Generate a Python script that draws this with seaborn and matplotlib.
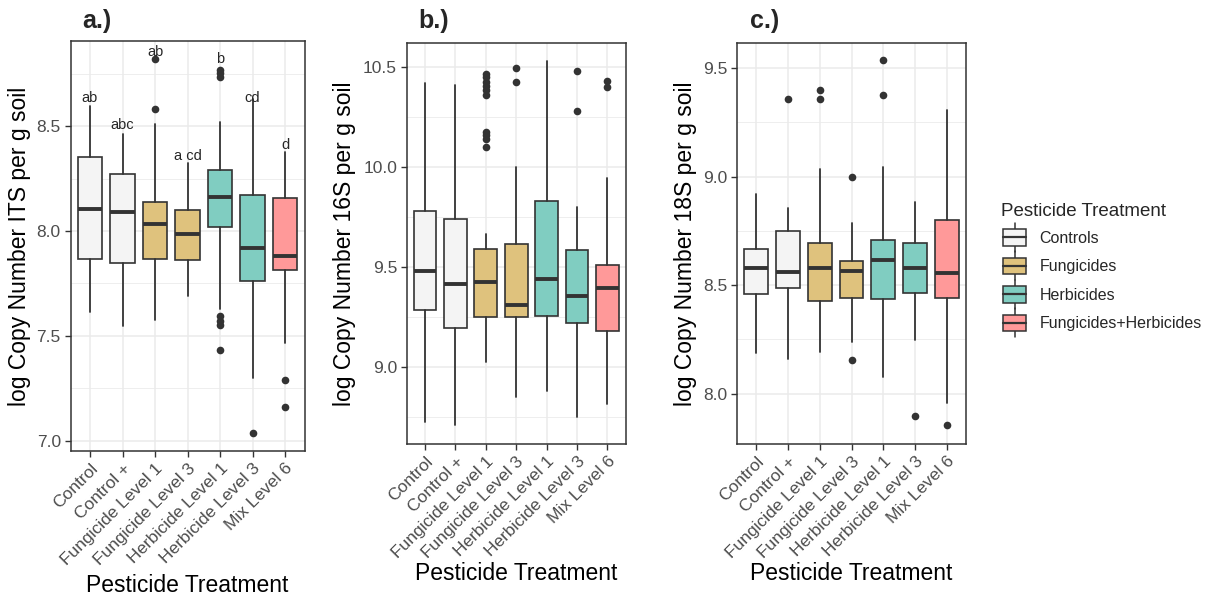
import numpy as np
import pandas as pd
import matplotlib
matplotlib.use('Agg')
import matplotlib.pyplot as plt
import seaborn as sns
from matplotlib.legend_handler import HandlerBase
from matplotlib.patches import Rectangle
from matplotlib.lines import Line2D
from matplotlib.ticker import FixedLocator

sns.set_style("white")
plt.rcParams['font.family'] = ['Liberation Sans', 'DejaVu Sans']

# ---------------- data ----------------
treatments = ['Control', 'Control +', 'Fungicide Level 1', 'Fungicide Level 3',
              'Herbicide Level 1', 'Herbicide Level 3', 'Mix Level 6']
groups = ['Controls', 'Controls', 'Fungicides', 'Fungicides',
          'Herbicides', 'Herbicides', 'Fungicides+Herbicides']
group_order = ['Controls', 'Fungicides', 'Herbicides', 'Fungicides+Herbicides']
group_colors = ['#F4F4F4', '#DFC27D', '#80CDC1', '#FF9999']

# a.) ITS
its_whislo = [7.613, 7.549, 7.576, 7.692, 7.627, 7.298, 7.465]
its_q1 = [7.867, 7.846, 7.865, 7.863, 8.021, 7.763, 7.814]
its_med = [8.105, 8.090, 8.032, 7.984, 8.162, 7.917, 7.879]
its_q3 = [8.354, 8.271, 8.140, 8.098, 8.289, 8.170, 8.157]
its_whishi = [8.595, 8.462, 8.508, 8.325, 8.519, 8.629, 8.376]
its_out = [[], [], [8.817, 8.583], [],
           [8.767, 8.754, 8.732, 7.595, 7.573, 7.552, 7.432], [7.040], [7.292, 7.163]]
its_letters = ['ab', 'abc', 'ab', 'a cd', 'b', 'cd', 'd']
its_letter_y = [8.635, 8.505, 8.854, 8.357, 8.817, 8.635, 8.410]

# b.) 16S
s16_whislo = [8.725, 8.708, 9.025, 8.847, 8.880, 8.750, 8.813]
s16_q1 = [9.283, 9.192, 9.250, 9.250, 9.255, 9.217, 9.178]
s16_med = [9.478, 9.412, 9.423, 9.308, 9.437, 9.355, 9.395]
s16_q3 = [9.778, 9.738, 9.587, 9.613, 9.828, 9.583, 9.508]
s16_whishi = [10.417, 10.408, 9.662, 10.000, 10.528, 9.797, 9.942]
s16_out = [[], [],
           [10.463, 10.447, 10.425, 10.403, 10.383, 10.358, 10.172, 10.158, 10.137, 10.097],
           [10.493, 10.422], [], [10.480, 10.280], [10.430, 10.397]]

# c.) 18S
s18_whislo = [8.186, 8.158, 8.194, 8.240, 8.078, 8.247, 7.958]
s18_q1 = [8.458, 8.488, 8.429, 8.439, 8.436, 8.462, 8.439]
s18_med = [8.578, 8.561, 8.578, 8.567, 8.616, 8.581, 8.555]
s18_q3 = [8.665, 8.750, 8.694, 8.611, 8.710, 8.694, 8.799]
s18_whishi = [8.920, 8.857, 9.034, 8.785, 9.043, 8.883, 9.307]
s18_out = [[], [9.359], [9.399, 9.359], [8.998, 8.155], [9.536, 9.376], [7.896], [7.854]]

# ---------------- layout (pixels) ----------------
W, H = 1209, 599
fig = plt.figure(figsize=(W / 100, H / 100), dpi=100)


def px_axes(left, top, right, bottom):
    return fig.add_axes([left / W, 1 - bottom / H, (right - left) / W, (bottom - top) / H])


EDGE = '#333333'
color_of = dict(zip(group_order, group_colors))


def draw_panel(ax, lo, q1, med, q3, hi, outs, ylim, yticks, ylabel, ylab_x, xlab_y):
    stats = [dict(whislo=a, q1=b, med=c, q3=d, whishi=e, fliers=[])
             for a, b, c, d, e in zip(lo, q1, med, q3, hi)]
    bp = ax.bxp(stats, positions=range(len(treatments)), widths=0.75, patch_artist=True,
                showfliers=False, showcaps=False,
                boxprops=dict(edgecolor=EDGE, linewidth=1.2),
                whiskerprops=dict(color=EDGE, linewidth=1.3),
                medianprops=dict(color=EDGE, linewidth=2.8, solid_capstyle='butt'))
    for patch, g in zip(bp['boxes'], groups):
        patch.set_facecolor(color_of[g])
        patch.set_zorder(2)

    # outliers through seaborn
    rows = [(t, v) for t, vals in zip(treatments, outs) for v in vals]
    df = pd.DataFrame(rows, columns=['Treatment', 'value'])
    sns.stripplot(data=df, x='Treatment', y='value', order=treatments, jitter=False,
                  color=EDGE, size=5.5, ax=ax, zorder=3)

    ax.set_xlim(-0.6, len(treatments) - 0.4)
    ax.set_ylim(*ylim)
    ax.set_xticks(range(len(treatments)))
    ax.set_xticklabels(treatments, rotation=45, ha='right', rotation_mode='anchor',
                       fontsize=12.5, color='#4D4D4D')
    ax.set_yticks(yticks)
    ax.set_yticklabels([f'{t:.1f}' for t in yticks], fontsize=12.5, color='#4D4D4D')
    ax.yaxis.set_minor_locator(FixedLocator([t + 0.25 for t in [yticks[0] - 0.5] + list(yticks)]))
    ax.tick_params(axis='both', which='major', length=4, width=1, color=EDGE, pad=3, direction='out',
                   bottom=True, left=True)
    ax.tick_params(axis='y', which='minor', length=0)
    ax.grid(True, which='major', color='#EBEBEB', linewidth=1.1)
    ax.grid(True, which='minor', axis='y', color='#EBEBEB', linewidth=0.6)
    ax.set_axisbelow(True)
    for s in ax.spines.values():
        s.set_color(EDGE)
        s.set_linewidth(1.1)
        s.set_visible(True)
    ax.set_ylabel(ylabel, fontsize=16.5, color='black')
    ax.yaxis.set_label_coords(ylab_x, 0.5)
    ax.set_xlabel('Pesticide Treatment', fontsize=16.5, color='black')
    ax.xaxis.set_label_coords(0.5, xlab_y)


ax_a = px_axes(70.5, 41, 304.5, 451)
draw_panel(ax_a, its_whislo, its_q1, its_med, its_q3, its_whishi, its_out,
           (6.952, 8.905), [7.0, 7.5, 8.0, 8.5], 'log Copy Number ITS per g soil', -0.17, -0.30)
for i, (lab, y) in enumerate(zip(its_letters, its_letter_y)):
    ax_a.text(i, y, lab, ha='center', va='center', fontsize=10.5, zorder=4)

ax_b = px_axes(406.8, 42.7, 625.5, 444)
draw_panel(ax_b, s16_whislo, s16_q1, s16_med, s16_q3, s16_whishi, s16_out,
           (8.613, 10.62), [9.0, 9.5, 10.0, 10.5], 'log Copy Number 16S per g soil', -0.23, -0.295)

ax_c = px_axes(737, 42.7, 966, 444)
draw_panel(ax_c, s18_whislo, s18_q1, s18_med, s18_q3, s18_whishi, s18_out,
           (7.768, 9.617), [8.0, 8.5, 9.0, 9.5], 'log Copy Number 18S per g soil', -0.176, -0.295)

# panel tags
for x, lab in [(82, 'a.)'), (418, 'b.)'), (750, 'c.)')]:
    fig.text(x / W, 1 - 28 / H, lab, fontsize=18, fontweight='bold', va='baseline', ha='left')


# ---------------- legend ----------------
class BoxKey(HandlerBase):
    # ggplot-style boxplot key: box with median bar and whisker stubs reaching the row edges
    def create_artists(self, legend, orig_handle, xdescent, ydescent, width, height, fontsize, trans):
        x0, y0 = -xdescent, -ydescent
        xm = x0 + width / 2
        yc = y0 + height / 2
        hb = 0.37 * height
        hw = 0.66 * height
        wl = Line2D([xm, xm], [yc - hw, yc - hb], color=EDGE, lw=1.1, transform=trans)
        wh = Line2D([xm, xm], [yc + hb, yc + hw], color=EDGE, lw=1.1, transform=trans)
        box = Rectangle((x0, yc - hb), width, 2 * hb,
                        facecolor=orig_handle.get_facecolor(), edgecolor=EDGE, lw=1.1, transform=trans)
        mid = Line2D([x0, x0 + width], [yc, yc], color=EDGE, lw=1.6, transform=trans)
        return [wl, wh, box, mid]


handles = [Rectangle((0, 0), 1, 1, facecolor=c) for c in group_colors]
leg = fig.legend(handles, group_order, handler_map={Rectangle: BoxKey()},
                 loc='upper left', bbox_to_anchor=(1003 / W, 1 - 203 / H),
                 frameon=False, fontsize=11.5, title='Pesticide Treatment',
                 title_fontsize=13.5, alignment='left', borderpad=0, borderaxespad=0,
                 handlelength=1.45, handleheight=1.75, handletextpad=0.85, labelspacing=0.4)
leg.get_title().set_x(-2)

fig.savefig('out.png', dpi=100)
